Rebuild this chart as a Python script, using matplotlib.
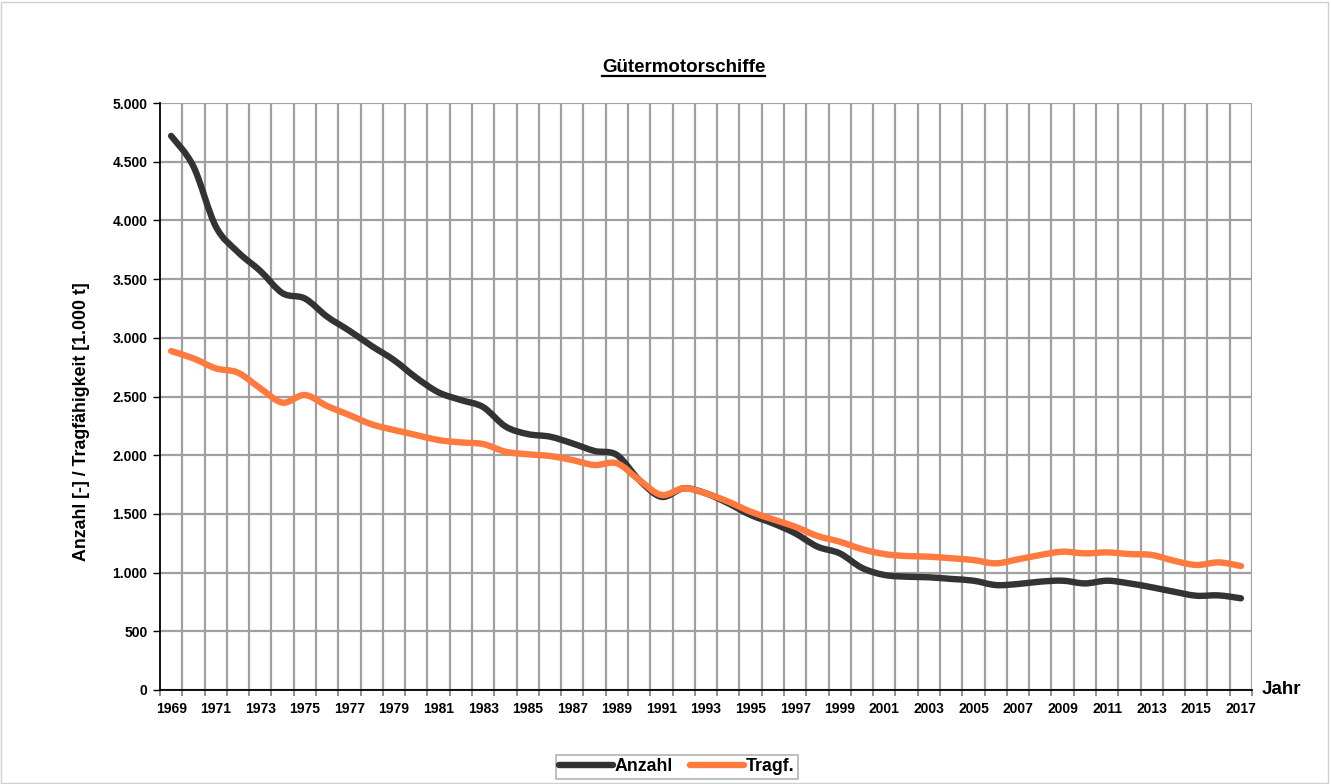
import matplotlib.pyplot as plt
from matplotlib.ticker import FuncFormatter, FixedLocator
from matplotlib.patches import Rectangle, PathPatch
from matplotlib.path import Path
from matplotlib.lines import Line2D

plt.rcParams['font.family'] = ['Liberation Sans', 'DejaVu Sans']

years = list(range(1969, 2018))
anzahl = [4720, 4460, 3950, 3730, 3570, 3380, 3335, 3180, 3060, 2930, 2810,
          2660, 2535, 2470, 2410, 2245, 2180, 2158, 2101, 2036, 2002, 1789,
          1645, 1718, 1675, 1590, 1491, 1420, 1335, 1221, 1164, 1040, 980,
          965, 960, 946, 931, 894, 903, 923, 931, 908, 931, 908, 875, 837,
          803, 806, 781]
tragf = [2887, 2825, 2740, 2703, 2570, 2448, 2513, 2419, 2342, 2263, 2215,
         2172, 2129, 2109, 2095, 2030, 2008, 1993, 1959, 1916, 1931, 1789,
         1661, 1718, 1675, 1604, 1519, 1454, 1391, 1312, 1263, 1200, 1158,
         1141, 1136, 1122, 1107, 1079, 1113, 1150, 1178, 1164, 1172, 1158,
         1150, 1101, 1065, 1087, 1056]


def smooth_path(xs, ys):
    # bezier path through the data points, like excel's smoothed line
    pts = list(zip(xs, ys))
    verts = [pts[0]]
    codes = [Path.MOVETO]
    n = len(pts)
    for i in range(n - 1):
        p0 = pts[max(i - 1, 0)]
        p1 = pts[i]
        p2 = pts[i + 1]
        p3 = pts[min(i + 2, n - 1)]
        c1 = (p1[0] + (p2[0] - p0[0]) / 6, p1[1] + (p2[1] - p0[1]) / 6)
        c2 = (p2[0] - (p3[0] - p1[0]) / 6, p2[1] - (p3[1] - p1[1]) / 6)
        verts += [c1, c2, p2]
        codes += [Path.CURVE4] * 3
    return Path(verts, codes)


def main():
    fig = plt.figure(figsize=(13.31, 7.84), dpi=100)
    fig.patches.append(Rectangle((0.001, 0.001), 0.997, 0.997, transform=fig.transFigure,
                                 fill=False, edgecolor="#d0d0d0", linewidth=1))
    ax = fig.add_axes([0.1202, 0.1199, 0.8205, 0.7487])

    x = list(range(len(years)))
    c_anz = "#333333"
    c_trg = "#ff7a3f"
    lw = 4.6
    for vals, col in ((anzahl, c_anz), (tragf, c_trg)):
        ax.add_patch(PathPatch(smooth_path(x, vals), facecolor="none", edgecolor=col,
                               linewidth=lw, capstyle="round", joinstyle="round", zorder=3))

    ax.set_xlim(-0.5, len(years) - 0.5)
    ax.set_ylim(0, 5000)
    ax.set_yticks(range(0, 5001, 500))
    ax.yaxis.set_major_formatter(FuncFormatter(lambda v, p: f"{int(v):,}".replace(",", ".")))

    # labels every second year, tick marks on category boundaries
    ax.set_xticks(x[::2])
    ax.set_xticklabels([str(y) for y in years[::2]])
    ax.tick_params(axis="x", which="major", length=0, pad=9)
    ax.xaxis.set_minor_locator(FixedLocator([i - 0.5 for i in range(len(years) + 1)]))
    ax.tick_params(axis="x", which="minor", length=4, width=1.4, color="#909090")
    ax.tick_params(axis="y", length=5, width=1, pad=4)

    for lab in ax.get_xticklabels() + ax.get_yticklabels():
        lab.set_fontweight("bold")
        lab.set_fontsize(10)

    # grid
    for i in range(len(years)):
        ax.axvline(i + 0.5, color="#a0a0a0", linewidth=1.6, zorder=1)
    ax.grid(axis="y", color="#a0a0a0", linewidth=1.6, zorder=1)
    ax.set_axisbelow(True)

    for s in ("top", "right"):
        ax.spines[s].set_visible(False)
    ax.spines["left"].set_linewidth(1.3)
    ax.spines["bottom"].set_linewidth(1.3)
    ax.spines["left"].set_zorder(4)
    ax.spines["bottom"].set_zorder(4)

    ax.set_ylabel("Anzahl [-] / Tragfähigkeit [1.000 t]", fontsize=12.8, fontweight="bold")
    ax.yaxis.set_label_coords(-0.064, 0.458)
    ax.text(1.009, 0.0, "Jahr", transform=ax.transAxes, fontsize=13.5, fontweight="bold",
            ha="left", va="center")

    title = fig.text(0.5135, 0.908, "Gütermotorschiffe", fontsize=13.5, fontweight="bold",
                     ha="center", va="baseline")
    fig.canvas.draw()
    bb = title.get_window_extent().transformed(fig.transFigure.inverted())
    fig.add_artist(Line2D([bb.x0, bb.x1], [0.9035, 0.9035], color="black",
                          linewidth=1.6, transform=fig.transFigure))

    handles = [Line2D([], [], color=c_anz, linewidth=lw, solid_capstyle="round"),
               Line2D([], [], color=c_trg, linewidth=lw, solid_capstyle="round")]
    leg = fig.legend(handles, ["Anzahl", "Tragf."], loc="center",
                     bbox_to_anchor=(0.5084, 0.0217), ncol=2, frameon=True,
                     fancybox=False, edgecolor="#a0a0a0", prop={"weight": "bold", "size": 12.8},
                     handlelength=3.0, handletextpad=0.1, columnspacing=1.0,
                     borderpad=0.2)
    leg.get_frame().set_linewidth(1.2)

    plt.savefig("out.png", dpi=100)


if __name__ == "__main__":
    main()
